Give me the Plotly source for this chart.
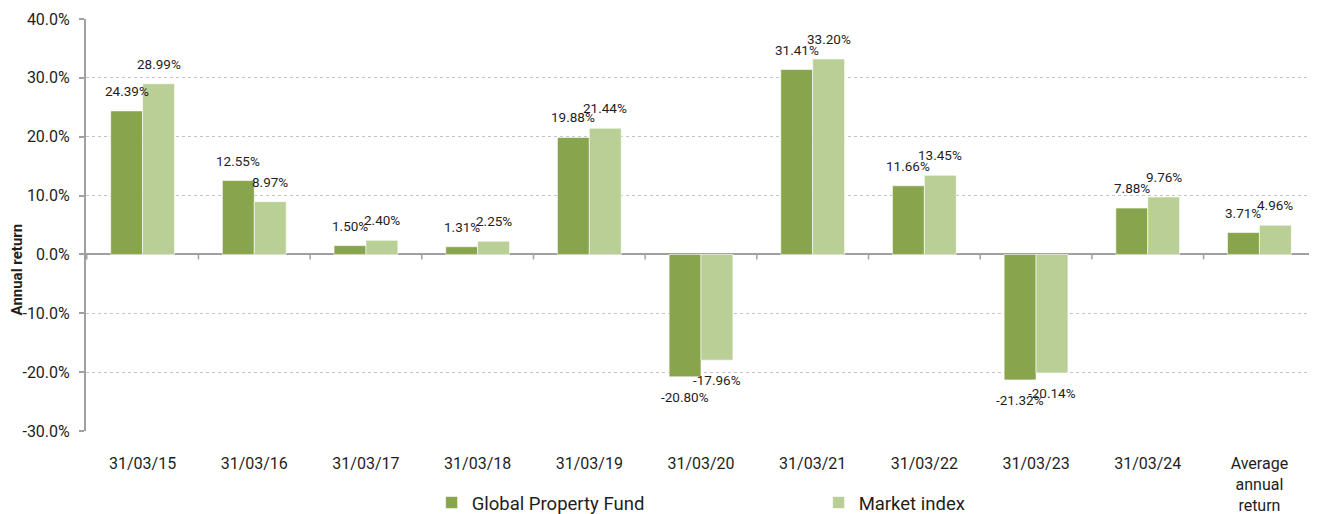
import plotly.graph_objects as go

categories = ["31/03/15", "31/03/16", "31/03/17", "31/03/18", "31/03/19", "31/03/20",
              "31/03/21", "31/03/22", "31/03/23", "31/03/24", "Average<br>annual<br>return"]
fund_values = [24.39, 12.55, 1.50, 1.31, 19.88, -20.80, 31.41, 11.66, -21.32, 7.88, 3.71]
index_values = [28.99, 8.97, 2.40, 2.25, 21.44, -17.96, 33.20, 13.45, -20.14, 9.76, 4.96]
y_ticks = [-30, -20, -10, 0, 10, 20, 30, 40]
y_tick_labels = [f"{v:.1f}%" for v in y_ticks]

FUND_COLOR = "#88A54E"
INDEX_COLOR = "#B9CF96"
AXIS_COLOR = "#A0A0A0"
TEXT_COLOR = "#1E1E1E"
FONT = "Roboto"

fig = go.Figure()
fig.add_trace(go.Bar(name="Global Property Fund", x=categories, y=fund_values,
                     marker=dict(color=FUND_COLOR, line=dict(width=0.6, color="white"))))
fig.add_trace(go.Bar(name="Market index", x=categories, y=index_values,
                     marker=dict(color=INDEX_COLOR, line=dict(width=0.6, color="white"))))

annotations = []
for series, shift in ((fund_values, -16), (index_values, 16)):
    for cat, v in zip(categories, series):
        annotations.append(dict(
            x=cat, y=v, xref="x", yref="y", text=f"{v:.2f}%", showarrow=False,
            xshift=shift, yshift=20 if v >= 0 else -20,
            font=dict(family=FONT, size=13.5, color=TEXT_COLOR)))

# y-axis title placed like the reference
annotations.append(dict(
    text="<b>Annual return</b>", xref="paper", yref="paper",
    x=-0.0577, y=0.391, xanchor="center", yanchor="middle", textangle=-90, xshift=1.5,
    showarrow=False, font=dict(family=FONT, size=15, color=TEXT_COLOR)))

# small tick marks on the zero line between categories
shapes = []
for i in range(len(categories) + 1):
    shapes.append(dict(type="line", xref="x", yref="y", x0=i - 0.5, x1=i - 0.5,
                       ysizemode="pixel", yanchor=0, y0=0, y1=-5,
                       line=dict(color=AXIS_COLOR, width=1.5)))

# the page body has an 8px margin, so the figure is sized to fit the window
fig.update_layout(
    width=1309, height=506,
    margin=dict(l=78, r=1, t=11, b=83, autoexpand=False),
    plot_bgcolor="white", paper_bgcolor="white",
    barmode="group", bargap=0.4286, bargroupgap=0,
    font=dict(family=FONT, size=16, color=TEXT_COLOR),
    showlegend=True,
    legend=dict(orientation="h", x=0.281, xanchor="left", y=-0.1748, yanchor="middle",
                font=dict(family=FONT, size=18.5, color=TEXT_COLOR),
                entrywidth=342, traceorder="normal", itemwidth=30),
    annotations=annotations,
    shapes=shapes,
)
fig.update_xaxes(showline=False, showgrid=False, zeroline=False,
                 ticks="outside", ticklen=18, tickcolor="rgba(0,0,0,0)",
                 tickfont=dict(family=FONT, size=16, color=TEXT_COLOR))
fig.update_yaxes(range=[-30, 40], tickvals=y_ticks, ticktext=y_tick_labels,
                 showgrid=True, gridcolor="#C4C4C4", griddash="dot", gridwidth=1,
                 zeroline=True, zerolinecolor=AXIS_COLOR, zerolinewidth=2,
                 showline=True, linecolor=AXIS_COLOR, linewidth=2,
                 ticks="outside", ticklen=5, tickcolor=AXIS_COLOR, tickwidth=1.5,
                 ticklabelstandoff=6,
                 tickfont=dict(family=FONT, size=16, color=TEXT_COLOR))

fig.write_html("out.html")
